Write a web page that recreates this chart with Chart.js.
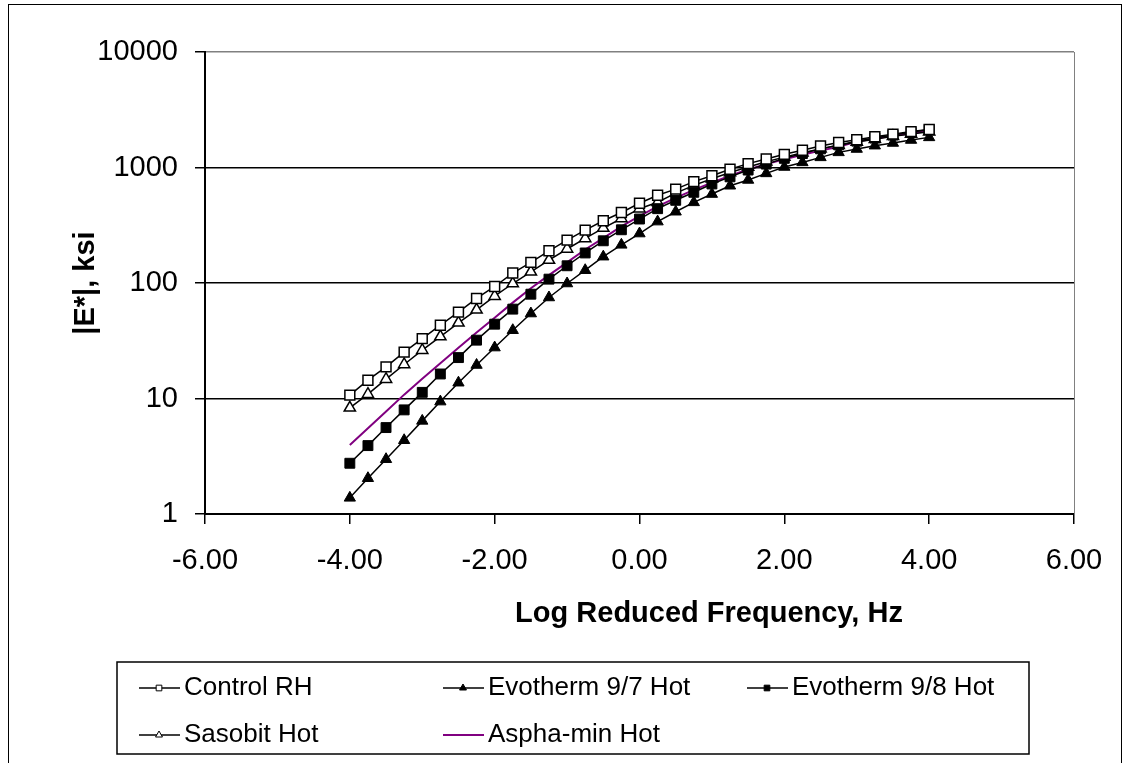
<!DOCTYPE html>
<html>
<head>
<meta charset="utf-8">
<script src="https://cdn.jsdelivr.net/npm/chart.js@4.4.0/dist/chart.umd.min.js"></script>
<style>
body { margin: 0; background: #fff; }
#wrap { position: relative; width: 1127px; height: 763px; overflow: hidden; }
#frame { position: absolute; left: 8px; top: 4px; width: 1112px; height: 800px; border: 1px solid #000; }
canvas { position: absolute; left: 0; top: 0; }
</style>
</head>
<body>
<div id="wrap">
  <div id="frame"></div>
  <canvas id="myChart" width="1127" height="763"></canvas>
</div>
<script>
// data
const freq = [-4, -3.75, -3.5, -3.25, -3, -2.75, -2.5, -2.25, -2, -1.75, -1.5, -1.25, -1, -0.75, -0.5, -0.25,
  0, 0.25, 0.5, 0.75, 1, 1.25, 1.5, 1.75, 2, 2.25, 2.5, 2.75, 3, 3.25, 3.5, 3.75, 4];

const controlRH = [10.7, 14.4, 18.8, 25.2, 33.0, 43.1, 56.0, 73.5, 93.3, 122, 151, 190, 235, 287, 346, 408,
  490, 575, 650, 755, 849, 965, 1080, 1185, 1300, 1410, 1535, 1645, 1740, 1845, 1945, 2045, 2130];
const evo97 = [1.38, 2.04, 2.98, 4.35, 6.4, 9.4, 13.7, 19.5, 27.6, 39, 54.4, 74.9, 99, 129, 169, 214,
  268, 340, 414, 499, 589, 695, 780, 889, 1010, 1107, 1224, 1352, 1446, 1545, 1630, 1730, 1823];
const evo98 = [2.75, 3.91, 5.6, 7.97, 11.3, 16.3, 22.6, 32.0, 44, 59.4, 80, 108, 141, 182, 232, 289,
  358, 440, 520, 610, 720, 830, 950, 1070, 1200, 1320, 1450, 1570, 1690, 1800, 1910, 2020, 2130];
const sasobit = [8.3, 10.9, 14.7, 19.7, 26.2, 34.4, 45.2, 58.6, 76.9, 99, 125, 158, 197, 243, 299, 362,
  440, 500, 600, 700, 800, 905, 1010, 1120, 1230, 1340, 1450, 1560, 1660, 1760, 1860, 1950, 2040];
const asphamin = [3.96, 5.53, 7.73, 10.8, 14.8, 20.2, 27.5, 37.2, 50.1, 67.6, 90.2, 117, 151, 195, 245, 309,
  380, 460, 545, 640, 740, 850, 960, 1070, 1180, 1290, 1400, 1510, 1680, 1780, 1880, 1980, 2070];

const seriesNames = ["Control RH", "Evotherm 9/7 Hot", "Evotherm 9/8 Hot", "Sasobit Hot", "Aspha-min Hot"];
const yTicks = [1, 10, 100, 1000, 10000];
const xTitle = "Log Reduced Frequency, Hz";
const yTitle = "|E*|, ksi";

// legend grid (column x, row y) for each series
const legendSpots = [[139, 688], [443, 688], [747, 688], [139, 735], [443, 735]];

function pts(values) {
  return freq.map((f, i) => ({ x: f, y: values[i] }));
}

Chart.defaults.font.family = '"Liberation Sans", Arial, sans-serif';
Chart.defaults.color = "#000";

const datasets = [
  { label: seriesNames[0], data: pts(controlRH), pointStyle: "rect", pointRadius: 7,
    backgroundColor: "#fff", borderColor: "#000", pointBorderWidth: 1.5 },
  { label: seriesNames[1], data: pts(evo97), pointStyle: "triangle", pointRadius: 6.5,
    backgroundColor: "#000", borderColor: "#000", pointBorderWidth: 1 },
  { label: seriesNames[2], data: pts(evo98), pointStyle: "rect", pointRadius: 7,
    backgroundColor: "#000", borderColor: "#000", pointBorderWidth: 1 },
  { label: seriesNames[3], data: pts(sasobit), pointStyle: "triangle", pointRadius: 6.5,
    backgroundColor: "#fff", borderColor: "#000", pointBorderWidth: 1.5 },
  { label: seriesNames[4], data: pts(asphamin), pointStyle: false, pointRadius: 0,
    backgroundColor: "#800080", borderColor: "#800080", borderWidth: 2 }
];
datasets.forEach(d => {
  d.showLine = true;
  d.tension = 0;
  if (!d.borderWidth) d.borderWidth = 1.5;
});

// axis titles, plot right edge and the boxed legend
const extras = {
  id: "extras",
  afterDraw(chart) {
    const ctx = chart.ctx;
    const area = chart.chartArea;
    ctx.save();
    ctx.strokeStyle = "#808080";
    ctx.lineWidth = 1;
    ctx.beginPath();
    ctx.moveTo(Math.round(area.right) + 0.5, area.top);
    ctx.lineTo(Math.round(area.right) + 0.5, area.bottom);
    ctx.stroke();

    ctx.fillStyle = "#000";
    ctx.font = 'bold 29px "Liberation Sans", Arial, sans-serif';
    ctx.textAlign = "center";
    ctx.textBaseline = "middle";
    ctx.fillText(xTitle, 709, 614);
    ctx.save();
    ctx.translate(86, (area.top + area.bottom) / 2);
    ctx.rotate(-Math.PI / 2);
    ctx.fillText(yTitle, 0, 0);
    ctx.restore();

    // legend box
    ctx.strokeStyle = "#000";
    ctx.lineWidth = 1.5;
    ctx.strokeRect(117, 662, 912, 92);
    ctx.font = '26px "Liberation Sans", Arial, sans-serif';
    ctx.textAlign = "left";
    chart.data.datasets.forEach((d, i) => {
      const [lx, ly] = legendSpots[i];
      ctx.strokeStyle = d.borderColor;
      ctx.lineWidth = d.borderWidth;
      ctx.beginPath();
      ctx.moveTo(lx, ly);
      ctx.lineTo(lx + 41, ly);
      ctx.stroke();
      if (d.pointStyle) {
        ctx.fillStyle = d.backgroundColor;
        ctx.strokeStyle = "#000";
        ctx.lineWidth = 1;
        Chart.helpers.drawPoint(ctx, { pointStyle: d.pointStyle, radius: 4, borderWidth: 1, rotation: 0 }, lx + 20, ly);
      }
      ctx.fillStyle = "#000";
      ctx.fillText(d.label, lx + 45, ly);
    });
    ctx.restore();
  }
};

const config = {
  type: "scatter",
  data: { datasets },
  options: {
    responsive: false,
    animation: false,
    layout: { padding: { left: 10, top: 52, right: 53, bottom: 129 } },
    plugins: { legend: { display: false }, tooltip: { enabled: false } },
    scales: {
      x: {
        type: "linear",
        min: -6, max: 6,
        ticks: { stepSize: 2, padding: 20, font: { size: 29 }, color: "#000",
          callback: v => v.toFixed(2) },
        grid: { drawOnChartArea: false, drawTicks: true, tickLength: 10, color: "#000", lineWidth: 1.5 },
        border: { color: "#000", width: 2 },
        afterFit: s => { s.height = 120; }
      },
      y: {
        type: "logarithmic",
        min: 1, max: 10000,
        afterBuildTicks: s => { s.ticks = yTicks.map(v => ({ value: v })); },
        ticks: { padding: 17, font: { size: 29 }, color: "#000", callback: v => String(v) },
        grid: { color: c => (c.tick && c.tick.value === 10000 ? "#808080" : "#000"),
          tickColor: "#000", tickLength: 10, lineWidth: 1.5 },
        border: { color: "#000", width: 2 },
        afterFit: s => { s.width = 195; }
      }
    }
  },
  plugins: [extras]
};

const myChart = new Chart(document.getElementById("myChart"), config);
</script>
</body>
</html>
